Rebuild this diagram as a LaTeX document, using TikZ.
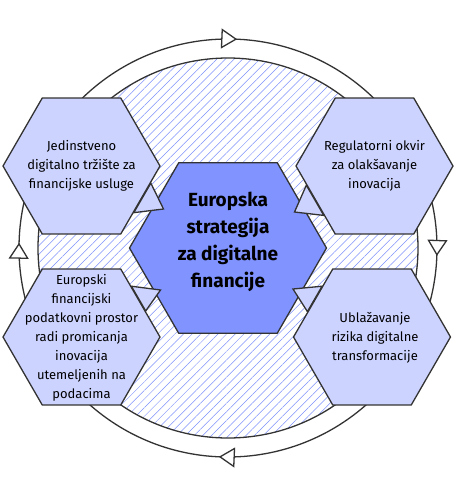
\documentclass[tikz,border=0pt]{standalone}
\usepackage{fontspec}
\setmainfont{Fira Sans}
\usetikzlibrary{shapes.geometric}
\usetikzlibrary{calc}
\usetikzlibrary{patterns.meta}
\usetikzlibrary{arrows.meta}
\usetikzlibrary{decorations.markings}
\definecolor{hexfill}{RGB}{204,211,255}
\definecolor{midfill}{RGB}{128,147,255}
\definecolor{hatch}{RGB}{125,145,250}
\definecolor{edge}{RGB}{51,51,51}
\tikzset{hex/.style={draw=edge, line width=1.3pt, fill=hexfill, regular polygon, regular polygon sides=6, minimum size=157pt, inner sep=0pt}}
\tikzset{hexmid/.style={hex, fill=midfill, minimum size=197pt}}
\tikzset{txt/.style={align=center, inner sep=0pt, font=\fontsize{13}{19}\selectfont}}
\tikzset{tab/.style={draw=edge, line width=1.3pt, fill=hexfill, line join=miter}}
\tikzset{flow/.tip={Triangle[length=16pt, width=20pt, fill=white]}}

\begin{document}
\begin{tikzpicture}[x=1pt, y=-1pt]
\useasboundingbox (0,0) rectangle (458,483);

\coordinate (o) at (228,248);

% cycle round the whole thing
\draw[edge, line width=1.3pt, postaction={decorate}, decoration={markings,
  mark=at position 0.006 with {\arrow{flow}},
  mark=at position 0.257 with {\arrow{flow}},
  mark=at position 0.504 with {\arrow{flow}},
  mark=at position 0.757 with {\arrow{flow}}}]
  (o) circle[radius=209];
\draw[edge, line width=1.3pt, fill=white, pattern={Lines[angle=45, distance=6.1pt, line width=0.5pt]}, pattern color=hatch]
  (o) circle[radius=190];

\node[hexmid] (eu) at (o) {};
\node[hex] (tl) at (81.5,166) {};
\node[hex] (tr) at (374.5,166) {};
\node[hex] (bl) at (81.5,337) {};
\node[hex] (br) at (372,337) {};

% little tabs pointing in
\draw[tab] ($(tl.0)!0.25!(tl.300)$) -- ($(tl)+(82,43)$) -- ($(tl.0)!0.68!(tl.300)$) -- cycle;
\draw[tab] ($(tr.180)!0.28!(tr.240)$) -- ($(tr)+(-80,46)$) -- ($(tr.180)!0.72!(tr.240)$) -- cycle;
\draw[tab] ($(bl.60)!0.26!(bl.0)$) -- ($(bl)+(79,-47)$) -- ($(bl.60)!0.62!(bl.0)$) -- cycle;
\draw[tab] ($(br.120)!0.26!(br.180)$) -- ($(br)+(-79,-48)$) -- ($(br.120)!0.63!(br.180)$) -- cycle;

\node[txt, font=\bfseries\fontsize{19}{27}\selectfont] (eu-t) at ($(eu)+(0,-6)$) {Europska\\strategija\\za digitalne\\financije};
\node[txt] (tl-t) at (tl) {Jedinstveno\\digitalno tržište za\\financijske usluge};
\node[txt] (tr-t) at (tr) {Regulatorni okvir\\za olakšavanje\\inovacija};
\node[txt] (bl-t) at ($(bl)+(0,1)$) {Europski\\financijski\\podatkovni prostor\\radi promicanja\\inovacija\\utemeljenih na\\podacima};
\node[txt] (br-t) at ($(br)+(3,1)$) {Ublažavanje\\rizika digitalne\\transformacije};

\end{tikzpicture}
\end{document}
